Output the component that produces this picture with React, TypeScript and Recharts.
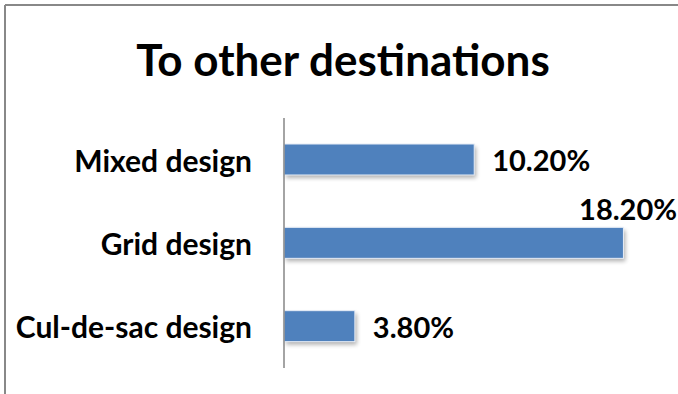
import React from 'react';
import { BarChart, Bar, XAxis, YAxis, LabelList } from 'recharts';

const categories = ['Mixed design', 'Grid design', 'Cul-de-sac design'];
const shares = [10.2, 18.2, 3.8];
const title = 'To other destinations';

const FONT = 'Lato, "Open Sans", sans-serif';
const W = 678;
const H = 394;

const data = categories.map((name, i) => ({ name, value: shares[i] }));

// bar with the soft Excel-style drop shadow
const ShadowBar = (props: any) => {
  const { x, y, width, height } = props;
  if (!width || width <= 0) return null;
  return (
    <g>
      <defs>
        <filter id="barShadow" x="-10%" y="-30%" width="130%" height="180%">
          <feGaussianBlur stdDeviation="2" />
        </filter>
      </defs>
      <rect x={x + 2} y={y + 3} width={width} height={height} fill="#000" opacity={0.3} filter="url(#barShadow)" />
      <rect x={x} y={y} width={width} height={height} fill="#4F81BD" stroke="#E8EEF7" strokeWidth={1} />
    </g>
  );
};

const ValueLabel = (props: any) => {
  const { x, y, width, height, value } = props;
  const text = `${Number(value).toFixed(2)}%`;
  const end = x + width;
  const estWidth = text.length * 16;
  // no room on the right -> lift above the bar, right aligned to the edge
  if (end + 18 + estWidth > W) {
    return (
      <text x={W - 1} y={y - 19} textAnchor="end" dominantBaseline="central"
        fontFamily={FONT} fontWeight={700} fontSize={29} fill="#000">
        {text}
      </text>
    );
  }
  return (
    <text x={end + 18} y={y + height / 2} textAnchor="start" dominantBaseline="central"
      fontFamily={FONT} fontWeight={700} fontSize={29} fill="#000">
      {text}
    </text>
  );
};

const CategoryTick = (props: any) => {
  const { x, y, payload } = props;
  return (
    <text x={x} y={y} textAnchor="end" dominantBaseline="central"
      fontFamily={FONT} fontWeight={700} fontSize={30} fill="#000">
      {payload.value}
    </text>
  );
};

export default function App() {
  return (
    <div style={{ position: 'fixed', left: 0, top: 0, width: W, height: H, overflow: 'hidden', background: '#fff' }}>
      <svg width={W} height={H} style={{ position: 'absolute', left: 0, top: 0 }}>
        <line x1={5} y1={5} x2={W} y2={5} stroke="#888" strokeWidth={2} />
        <line x1={5} y1={5} x2={5} y2={H} stroke="#888" strokeWidth={2} />
        <text x={343} y={76} textAnchor="middle" fontFamily={FONT} fontWeight={700} fontSize={44} fill="#000">
          {title}
        </text>
      </svg>
      <div style={{ position: 'absolute', left: 0, top: 0 }}>
        <BarChart
          width={W}
          height={H}
          data={data}
          layout="vertical"
          barSize={31}
          margin={{ top: 118, right: 21, bottom: 26, left: 0 }}
        >
          <XAxis type="number" domain={[0, 20]} hide />
          <YAxis
            type="category"
            dataKey="name"
            width={284}
            axisLine={{ stroke: '#868686', strokeWidth: 1.5 }}
            tickLine={false}
            tickSize={0}
            tickMargin={32}
            tick={<CategoryTick />}
          />
          <Bar dataKey="value" shape={<ShadowBar />} isAnimationActive={false}>
            <LabelList dataKey="value" content={<ValueLabel />} />
          </Bar>
        </BarChart>
      </div>
    </div>
  );
}
